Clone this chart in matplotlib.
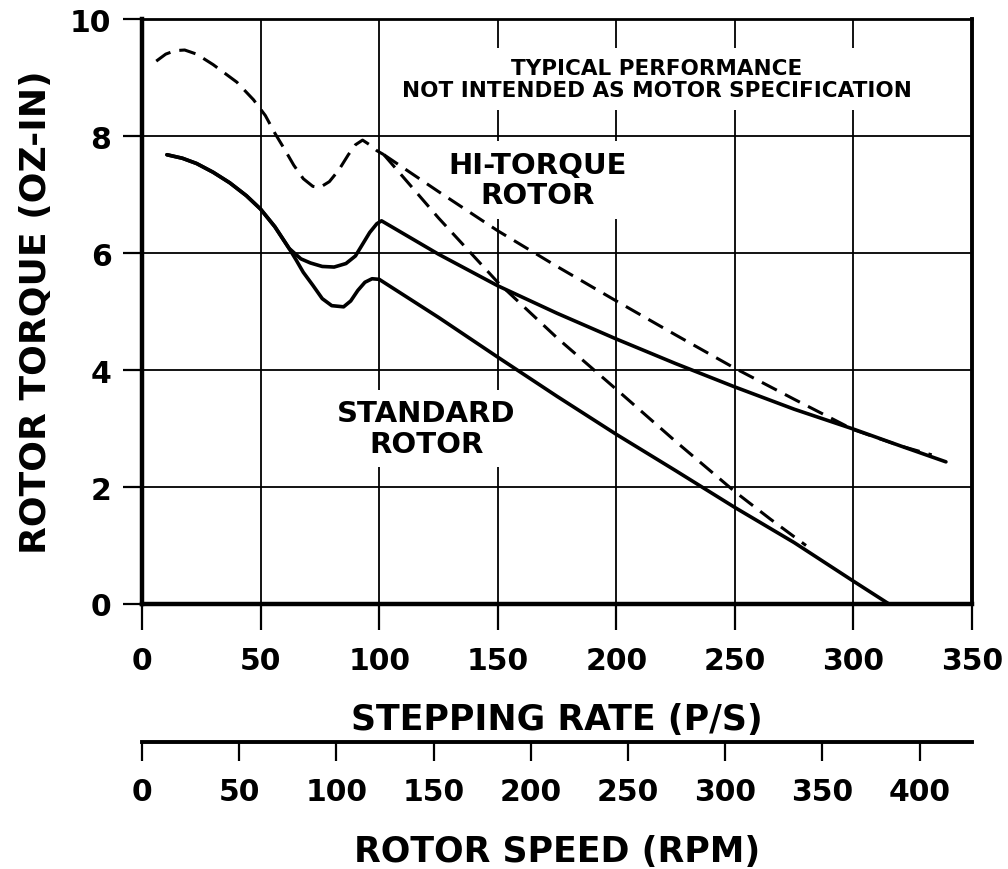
import matplotlib
matplotlib.use("Agg")
import matplotlib.pyplot as plt

plt.rcParams['font.family'] = ['DejaVu Sans']
plt.rcParams['font.weight'] = 'bold'

# stepping rate (p/s) vs rotor torque (oz-in)
hi_solid_x = [10.5, 17, 23, 30, 37, 44, 50, 56, 62, 67, 71, 76, 81, 86, 90, 93, 96, 99, 101,
              125, 150, 175, 200, 225, 250, 275, 300, 320, 339]
hi_solid_y = [7.68, 7.62, 7.53, 7.38, 7.20, 6.98, 6.75, 6.45, 6.08, 5.90, 5.83, 5.77, 5.76, 5.82,
              5.95, 6.15, 6.35, 6.50, 6.55, 5.98, 5.44, 4.97, 4.53, 4.11, 3.71, 3.33, 2.99, 2.70, 2.43]

std_solid_x = [10.5, 17, 23, 30, 37, 44, 50, 56, 62, 65, 68, 72, 76, 80, 85, 88, 91, 94, 97, 100,
               125, 150, 175, 200, 225, 250, 275, 300, 315]
std_solid_y = [7.68, 7.62, 7.53, 7.38, 7.20, 6.98, 6.75, 6.45, 6.08, 5.88, 5.67, 5.45, 5.22, 5.10,
               5.08, 5.18, 5.36, 5.50, 5.56, 5.55, 4.90, 4.22, 3.55, 2.90, 2.28, 1.65, 1.05, 0.39, 0.0]

dash_x = [6, 10, 14, 18, 23, 30, 40, 47, 52, 56, 60, 64, 68, 72, 75, 79, 83, 87, 90, 93, 96, 99, 102]
dash_y = [9.28, 9.40, 9.46, 9.47, 9.40, 9.22, 8.92, 8.62, 8.35, 8.05, 7.78, 7.50, 7.27, 7.14, 7.12,
          7.22, 7.42, 7.68, 7.85, 7.93, 7.85, 7.75, 7.68]

hi_dash_x = [102, 125, 150, 175, 200, 225, 250, 275, 300, 320, 333]
hi_dash_y = [7.68, 7.05, 6.38, 5.77, 5.18, 4.60, 4.03, 3.50, 2.98, 2.70, 2.55]

std_dash_x = [102, 125, 150, 175, 200, 225, 250, 265, 280]
std_dash_y = [7.68, 6.60, 5.50, 4.55, 3.67, 2.78, 1.92, 1.45, 1.00]

rate_ticks = [0, 50, 100, 150, 200, 250, 300, 350]
torque_ticks = [0, 2, 4, 6, 8, 10]
rpm_ticks = [0, 50, 100, 150, 200, 250, 300, 350, 400]
rpm_per_rate = 1.22

fig = plt.figure(figsize=(10.08, 8.7), dpi=100)
ax = fig.add_axes([0.1409, 0.3046, 0.8234, 0.6724])
ax.set_axisbelow(True)

ax.plot(hi_solid_x, hi_solid_y, color='black', lw=2.6, zorder=3, solid_capstyle='round')
ax.plot(std_solid_x, std_solid_y, color='black', lw=2.6, zorder=3, solid_capstyle='round')
for xs, ys in [(dash_x, dash_y), (hi_dash_x, hi_dash_y), (std_dash_x, std_dash_y)]:
    ax.plot(xs, ys, color='black', lw=2.2, linestyle=(0, (5.5, 3)), zorder=3)

ax.set_xlim(0, 350)
ax.set_ylim(0, 10)
ax.set_xticks(rate_ticks)
ax.set_yticks(torque_ticks)
ax.grid(True, color='black', lw=1.3)

for side, w in [('left', 3.2), ('bottom', 3.2), ('top', 2.0), ('right', 2.8)]:
    ax.spines[side].set_linewidth(w)

ax.tick_params(axis='x', direction='out', length=19, width=1.6, pad=11, labelsize=21.5)
ax.tick_params(axis='y', direction='out', length=14, width=1.6, pad=8, labelsize=21.5)

ax.set_xlabel('STEPPING RATE (P/S)', fontsize=25, fontweight='bold', labelpad=20)
ax.set_ylabel('ROTOR TORQUE (OZ-IN)', fontsize=26, fontweight='bold', labelpad=12)

sec = ax.secondary_xaxis(-0.236, functions=(lambda r: r * rpm_per_rate, lambda v: v / rpm_per_rate))
sec.set_xticks(rpm_ticks)
sec.spines['bottom'].set_linewidth(2.8)
sec.tick_params(direction='out', length=14, width=1.6, pad=11, labelsize=21.5)
sec.set_xlabel('ROTOR SPEED (RPM)', fontsize=25, fontweight='bold', labelpad=20)

box = dict(facecolor='white', edgecolor='none', pad=7)
ax.text(217, 8.97, 'TYPICAL PERFORMANCE\nNOT INTENDED AS MOTOR SPECIFICATION',
        ha='center', va='center', fontsize=15.5, fontweight='bold', linespacing=1.15,
        bbox=box, zorder=2)
ax.text(167, 7.25, 'HI-TORQUE\nROTOR', ha='center', va='center', fontsize=21,
        fontweight='bold', linespacing=1.1, bbox=box, zorder=2)
ax.text(120, 3.0, 'STANDARD\nROTOR', ha='center', va='center', fontsize=21,
        fontweight='bold', linespacing=1.1, bbox=box, zorder=2)

fig.savefig('out.png', dpi=100)
